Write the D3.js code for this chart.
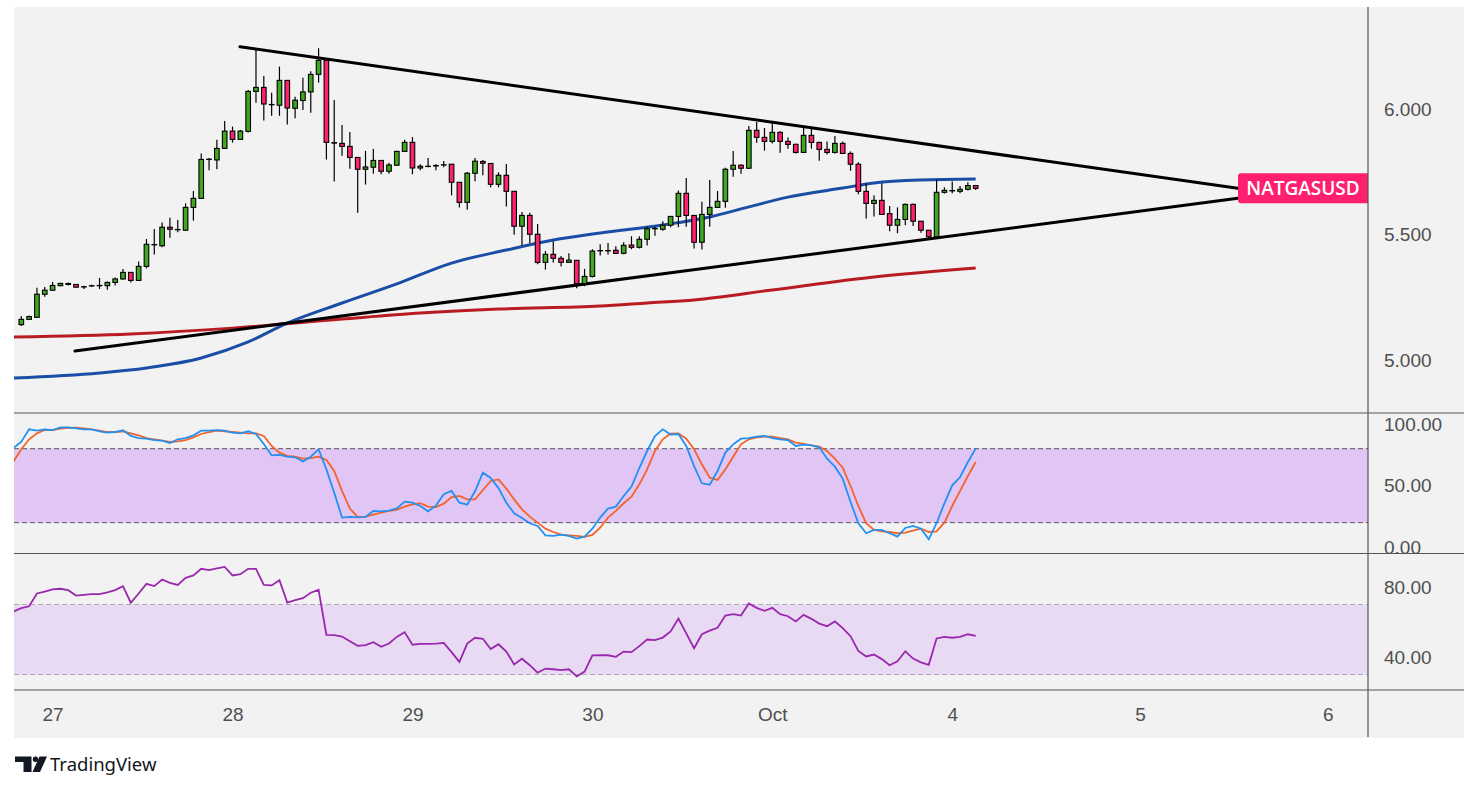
<!DOCTYPE html>
<html>
<head>
<meta charset="utf-8">
<title>NATGASUSD</title>
<script src="https://cdn.jsdelivr.net/npm/d3@7"></script>
<style>
  body { margin: 0; background: #fff; }
  svg { display: block; font-family: "Noto Sans", sans-serif; }
  .ax text { fill: #4f4f4f; font-size: 19px; }
</style>
</head>
<body>
<div id="chart"></div>
<script>
// hourly candles, bar index 0..122
var opens  = [5.141,5.162,5.170,5.262,5.278,5.296,5.301,5.301,5.292,5.295,5.297,5.296,5.309,5.323,5.349,5.317,5.373,5.460,5.455,5.529,
              5.520,5.517,5.608,5.644,5.799,5.797,5.843,5.912,5.879,5.911,6.070,6.086,6.018,6.015,6.114,6.003,6.034,6.068,6.138,6.194,
              5.866,5.863,5.851,5.807,5.760,5.768,5.795,5.752,5.776,5.831,5.867,5.765,5.771,5.775,5.777,5.780,5.708,5.628,5.744,5.791,
              5.783,5.700,5.736,5.672,5.533,5.576,5.501,5.389,5.421,5.405,5.389,5.397,5.304,5.333,5.435,5.436,5.437,5.425,5.458,5.449,
              5.481,5.523,5.521,5.537,5.572,5.664,5.576,5.469,5.580,5.608,5.632,5.760,5.776,5.764,5.915,5.887,5.871,5.907,5.871,5.859,
              5.827,5.895,5.867,5.839,5.827,5.863,5.823,5.780,5.672,5.624,5.636,5.583,5.537,5.560,5.620,5.553,5.517,5.491,5.668,5.675,
              5.672,5.680,5.695];
var highs  = [5.175,5.177,5.288,5.291,5.311,5.308,5.308,5.302,5.296,5.300,5.327,5.313,5.329,5.363,5.350,5.392,5.482,5.522,5.548,5.567,
              5.558,5.624,5.673,5.823,5.805,5.877,5.952,5.930,5.916,6.076,6.235,6.131,6.065,6.169,6.115,6.049,6.125,6.150,6.242,6.198,
              6.036,5.936,5.908,5.808,5.833,5.841,5.796,5.786,5.834,5.877,5.888,5.780,5.805,5.780,5.793,5.781,5.709,5.749,5.805,5.797,
              5.784,5.748,5.781,5.673,5.590,5.587,5.542,5.434,5.473,5.414,5.425,5.398,5.363,5.441,5.461,5.466,5.453,5.469,5.493,5.493,
              5.531,5.531,5.553,5.573,5.675,5.725,5.577,5.630,5.717,5.673,5.766,5.833,5.780,5.932,5.948,5.924,5.948,5.911,5.886,5.863,
              5.928,5.924,5.870,5.871,5.892,5.871,5.831,5.788,5.704,5.656,5.704,5.614,5.608,5.624,5.624,5.553,5.517,5.720,5.688,5.711,
              5.693,5.708,5.697];
var lows   = [5.135,5.159,5.168,5.252,5.276,5.294,5.297,5.289,5.283,5.292,5.283,5.280,5.297,5.320,5.309,5.316,5.365,5.420,5.449,5.487,
              5.509,5.515,5.555,5.642,5.756,5.760,5.841,5.866,5.877,5.906,6.025,5.954,5.973,5.973,5.938,5.963,5.996,5.985,6.105,5.799,
              5.711,5.814,5.762,5.587,5.699,5.742,5.740,5.742,5.775,5.830,5.740,5.756,5.768,5.756,5.768,5.656,5.608,5.599,5.712,5.736,
              5.688,5.688,5.612,5.499,5.456,5.465,5.381,5.360,5.388,5.373,5.388,5.286,5.294,5.329,5.416,5.420,5.422,5.421,5.441,5.444,
              5.456,5.495,5.515,5.529,5.529,5.531,5.444,5.440,5.531,5.606,5.607,5.730,5.742,5.762,5.866,5.834,5.863,5.826,5.842,5.823,
              5.826,5.842,5.794,5.819,5.823,5.822,5.754,5.660,5.564,5.572,5.578,5.513,5.505,5.537,5.534,5.507,5.486,5.489,5.663,5.664,
              5.664,5.675,5.677];
var closes = [5.162,5.173,5.262,5.278,5.297,5.305,5.305,5.290,5.291,5.296,5.297,5.309,5.323,5.349,5.317,5.373,5.461,5.459,5.529,5.521,
              5.519,5.608,5.644,5.799,5.800,5.843,5.912,5.879,5.912,6.070,6.086,6.020,6.017,6.114,6.004,6.035,6.068,6.138,6.194,5.867,
              5.864,5.851,5.807,5.760,5.769,5.795,5.752,5.777,5.831,5.867,5.765,5.772,5.772,5.773,5.778,5.708,5.628,5.744,5.792,5.784,
              5.700,5.736,5.672,5.533,5.576,5.501,5.389,5.421,5.405,5.389,5.398,5.304,5.333,5.434,5.436,5.436,5.425,5.457,5.449,5.481,
              5.523,5.524,5.537,5.572,5.664,5.576,5.469,5.580,5.608,5.632,5.760,5.776,5.764,5.915,5.887,5.871,5.907,5.871,5.859,5.827,
              5.895,5.867,5.839,5.827,5.863,5.823,5.780,5.672,5.624,5.636,5.580,5.537,5.560,5.620,5.553,5.517,5.491,5.668,5.676,5.675,
              5.680,5.695,5.684];

// moving averages, sampled at bar indices
var maFastIdx = [-1,10,16,23,29,34,41,48,55,62,68,74,82,88,93,98,105,109,115,122];
var maFast    = [4.928,4.948,4.968,5.008,5.072,5.147,5.227,5.303,5.386,5.438,5.478,5.506,5.538,5.570,5.610,5.649,5.685,5.705,5.717,5.721];
var maSlowIdx = [-1,14,27,41,51,61,74,80,86,96,109,122];
var maSlow    = [5.092,5.104,5.127,5.163,5.187,5.203,5.215,5.227,5.239,5.279,5.331,5.367];

// triangle trend lines: [bar index, price]
var upperLine = [[27.96, 6.248], [155.5, 5.684]];
var lowerLine = [[6.86, 5.036], [155.5, 5.644]];

// indicators start at bar index -1
var stochK = [80.4,
  85.7,95.7,94.6,95.7,95.1,97.3,97.3,96.5,95.7,95.7,94.1,93.0,93.5,94.9,90.3,88.6,88.1,87.0,86.5,84.6,
  87.6,88.6,90.8,94.6,94.6,95.1,94.6,93.0,92.4,94.1,91.9,83.8,74.6,74.9,73.5,73.0,69.7,73.5,79.5,63.2,
  44.3,24.1,24.6,24.3,24.6,29.5,29.2,29.7,31.6,37.0,36.2,33.5,29.2,33.8,43.0,45.7,36.2,34.6,45.4,60.5,
  56.2,48.0,36.2,27.6,23.8,19.5,17.3,9.7,9.2,10.3,9.2,7.0,8.6,15.1,24.1,31.4,33.0,41.6,49.2,64.3,
  78.1,90.3,95.7,91.4,91.9,82.2,65.9,51.9,50.8,61.9,76.8,83.5,88.1,88.6,89.7,90.3,88.6,87.6,87.0,82.2,
  83.2,82.7,81.1,71.9,65.4,55.7,36.8,19.5,11.4,14.1,14.1,11.4,8.6,15.7,17.3,15.1,6.5,19.5,35.7,50.3,
  56.8,69.2,80.0];
var stochD = [69.6,
  79.5,87.6,92.4,95.1,95.1,96.2,96.8,97.0,96.5,95.7,94.6,93.5,93.5,94.1,92.4,90.8,88.6,87.6,86.5,85.4,
  85.9,87.0,89.2,91.9,93.5,94.6,94.1,93.5,93.0,92.4,92.4,90.3,82.2,76.8,74.1,73.5,71.9,72.4,73.5,70.8,
  61.9,45.7,31.4,24.6,24.9,26.5,28.1,29.5,30.3,33.0,34.9,35.7,33.0,32.7,35.4,40.8,41.6,38.9,38.9,46.5,
  53.8,55.0,47.6,38.9,30.8,24.9,20.0,15.1,12.4,10.3,9.7,9.2,8.4,10.0,15.9,24.1,29.5,35.7,41.1,51.1,
  63.2,78.1,87.6,92.2,92.4,88.1,79.5,67.3,56.5,54.6,63.2,73.5,83.5,87.6,89.2,89.7,89.7,88.6,87.6,84.9,
  83.8,82.7,81.6,78.1,71.9,64.6,49.7,33.5,19.5,14.1,13.0,12.4,11.4,11.9,13.5,15.1,12.4,13.0,20.0,33.5,
  45.7,57.8,69.2];
var rsi = [66.0,
  67.9,69.0,76.3,77.4,78.6,79.0,78.2,75.1,75.5,75.9,75.9,76.9,78.2,80.5,71.0,76.3,81.8,80.5,84.3,82.4,
  81.2,85.2,86.6,90.4,89.6,90.6,91.5,86.6,87.3,90.4,90.4,81.2,80.9,83.9,71.1,72.5,73.6,76.7,78.4,52.7,
  52.5,51.7,49.0,46.4,46.8,48.5,45.8,47.7,51.5,54.2,47.0,47.5,47.5,47.7,48.1,42.8,37.2,47.7,51.0,50.4,
  44.5,47.3,43.1,35.7,39.0,35.3,31.0,33.4,33.0,32.5,33.0,28.9,31.7,40.9,41.0,41.0,40.1,43.1,42.8,46.2,
  50.0,49.6,51.1,54.6,62.0,53.5,45.0,53.0,55.1,56.7,63.7,64.5,63.7,70.6,68.1,66.4,68.1,64.5,63.3,60.3,
  64.1,61.8,59.1,57.6,60.3,56.5,51.9,43.5,40.3,41.4,38.8,35.3,37.6,43.3,39.1,36.9,35.5,50.6,51.5,51.0,
  51.5,53.0,52.1];

// time axis labels (bar index of each day start)
var dayIdx    = [4, 27, 50, 73, 96, 119, 143, 167];
var dayLabels = ["27", "28", "29", "30", "Oct", "4", "5", "6"];

var priceTicks = [5, 5.5, 6];
var stochTicks = [0, 50, 100];
var rsiTicks   = [40, 80];

var W = 1479, H = 791;
var left = 14, plotRight = 1368, outerRight = 1464, plotTop = 7;
var mainBot = 413, stochBot = 553.5, rsiBot = 690, bottom = 738;

var svg = d3.select("#chart").append("svg")
    .attr("width", W).attr("height", H);

svg.append("rect")
    .attr("x", left).attr("y", plotTop)
    .attr("width", outerRight - left).attr("height", bottom - plotTop)
    .attr("fill", "#f2f2f2");

var x  = d3.scaleLinear().domain([0, 122]).range([21.3, 975.7]);
var y  = d3.scaleLinear().domain([5, 6]).range([360, 109]);
var yS = d3.scaleLinear().domain([0, 100]).range([547.3, 424]);
var yR = d3.scaleLinear().domain([40, 80]).range([657, 587]);

var defs = svg.append("defs");
function clip(id, y0, y1) {
  defs.append("clipPath").attr("id", id).append("rect")
      .attr("x", left).attr("y", y0).attr("width", plotRight - left).attr("height", y1 - y0);
}
clip("cMain", plotTop, mainBot);
clip("cStoch", mainBot, stochBot);
clip("cRsi", stochBot, rsiBot);

var gMain  = svg.append("g").attr("clip-path", "url(#cMain)");
var gStoch = svg.append("g").attr("clip-path", "url(#cStoch)");
var gRsi   = svg.append("g").attr("clip-path", "url(#cRsi)");

// ---- main pane ----
var maLine = d3.line().curve(d3.curveMonotoneX);

gMain.append("path")
    .attr("d", maLine(maSlowIdx.map(function(d, k) { return [x(d), y(maSlow[k])]; })))
    .attr("fill", "none").attr("stroke", "#b81c22").attr("stroke-width", 3);

gMain.append("path")
    .attr("d", maLine(maFastIdx.map(function(d, k) { return [x(d), y(maFast[k])]; })))
    .attr("fill", "none").attr("stroke", "#1a4ea6").attr("stroke-width", 3);

[upperLine, lowerLine].forEach(function(l) {
  gMain.append("line")
      .attr("x1", x(l[0][0])).attr("y1", y(l[0][1]))
      .attr("x2", x(l[1][0])).attr("y2", y(l[1][1]))
      .attr("stroke", "#000").attr("stroke-width", 3).attr("stroke-linecap", "round");
});

var candle = gMain.append("g").selectAll("g")
    .data(opens.map(function(o, i) { return {i: i, o: o, h: highs[i], l: lows[i], c: closes[i]}; }))
    .enter().append("g");

candle.append("line")
    .attr("x1", function(d) { return x(d.i); })
    .attr("x2", function(d) { return x(d.i); })
    .attr("y1", function(d) { return y(d.h); })
    .attr("y2", function(d) { return y(d.l); })
    .attr("stroke", "#000").attr("stroke-width", 1.2);

candle.append("rect")
    .attr("x", function(d) { return x(d.i) - 2.3; })
    .attr("width", 4.6)
    .attr("y", function(d) { return y(Math.max(d.o, d.c)); })
    .attr("height", function(d) { return Math.max(Math.abs(y(d.o) - y(d.c)), 0.3); })
    .attr("fill", function(d) { return d.c > d.o ? "#3fa81e" : (d.c < d.o ? "#ff206e" : "#000"); })
    .attr("stroke", "#000").attr("stroke-width", 1.1);

// symbol label at the apex
var lx = 1238, ly = 173.3, lw = plotRight - 1238, lh = 30;
svg.append("path")
    .attr("d", "M" + (lx + 3) + "," + ly + "H" + (lx + lw) + "V" + (ly + lh) + "H" + (lx + 3) +
               "Q" + lx + "," + (ly + lh) + " " + lx + "," + (ly + lh - 3) + "V" + (ly + 3) +
               "Q" + lx + "," + ly + " " + (lx + 3) + "," + ly + "Z")
    .attr("fill", "#ff1f6e");
svg.append("text")
    .attr("x", lx + lw / 2).attr("y", ly + lh / 2)
    .attr("dy", "0.35em").attr("text-anchor", "middle")
    .attr("fill", "#fff").attr("font-size", 19).attr("font-weight", 600)
    .attr("font-family", "'Open Sans', sans-serif")
    .text("NATGASUSD");

// ---- stochastic pane ----
gStoch.append("rect")
    .attr("x", left).attr("width", plotRight - left)
    .attr("y", yS(80)).attr("height", yS(20) - yS(80))
    .attr("fill", "#e1c5f4");
[80, 20].forEach(function(v) {
  gStoch.append("line")
      .attr("x1", left).attr("x2", plotRight).attr("y1", yS(v)).attr("y2", yS(v))
      .attr("stroke", "#5a5a5a").attr("stroke-width", 1).attr("stroke-dasharray", "5,3");
});

var indLine = function(scale) {
  return d3.line().x(function(d, k) { return x(k - 1); }).y(function(d) { return scale(d); });
};
gStoch.append("path").datum(stochD)
    .attr("d", indLine(yS))
    .attr("fill", "none").attr("stroke", "#f4632a").attr("stroke-width", 1.8);
gStoch.append("path").datum(stochK)
    .attr("d", indLine(yS))
    .attr("fill", "none").attr("stroke", "#2391f1").attr("stroke-width", 1.8);

// ---- RSI pane ----
gRsi.append("rect")
    .attr("x", left).attr("width", plotRight - left)
    .attr("y", yR(70)).attr("height", yR(30) - yR(70))
    .attr("fill", "#e8daf3");
[70, 30].forEach(function(v) {
  gRsi.append("line")
      .attr("x1", left).attr("x2", plotRight).attr("y1", yR(v)).attr("y2", yR(v))
      .attr("stroke", "#b0a8b8").attr("stroke-width", 1).attr("stroke-dasharray", "5,3");
});
gRsi.append("path").datum(rsi)
    .attr("d", indLine(yR))
    .attr("fill", "none").attr("stroke", "#9a28ae").attr("stroke-width", 1.8);

// ---- separators ----
[mainBot, stochBot, rsiBot].forEach(function(v) {
  svg.append("line")
      .attr("x1", left).attr("x2", outerRight).attr("y1", v).attr("y2", v)
      .attr("stroke", "#555").attr("stroke-width", 1.2);
});
svg.append("line")
    .attr("x1", plotRight).attr("x2", plotRight).attr("y1", plotTop).attr("y2", 737)
    .attr("stroke", "#555").attr("stroke-width", 1.2);

// ---- axes ----
function rightAxis(scale, ticks, fmt) {
  var g = svg.append("g").attr("class", "ax")
      .attr("transform", "translate(" + plotRight + ",0)")
      .call(d3.axisRight(scale).tickValues(ticks).tickFormat(d3.format(fmt)).tickSize(0).tickPadding(16));
  g.select(".domain").remove();
  g.selectAll("text").attr("font-family", null).attr("font-size", null);
  return g;
}
rightAxis(y, priceTicks, ".3f");
rightAxis(yS, stochTicks, ".2f");
rightAxis(yR, rsiTicks, ".2f");

var xAxis = svg.append("g").attr("class", "ax")
    .attr("transform", "translate(0,714)")
    .call(d3.axisBottom(x).tickValues(dayIdx)
      .tickFormat(function(d, k) { return dayLabels[k]; })
      .tickSize(0).tickPadding(0));
xAxis.select(".domain").remove();
xAxis.selectAll("text").attr("dy", "0.35em").attr("font-family", null).attr("font-size", null);

// ---- TradingView mark ----
var logo = svg.append("g").attr("fill", "#131722");
logo.append("path").attr("d", "M15,756.5H31.5V772H23.5V762H15Z");
logo.append("circle").attr("cx", 35.5).attr("cy", 759.3).attr("r", 2.7);
logo.append("path").attr("d", "M39.5,756.5H47L40,772H32.5Z");
svg.append("text")
    .attr("x", 50).attr("y", 771)
    .attr("fill", "#131722").attr("font-size", 18.5)
    .text("TradingView");
</script>
</body>
</html>
